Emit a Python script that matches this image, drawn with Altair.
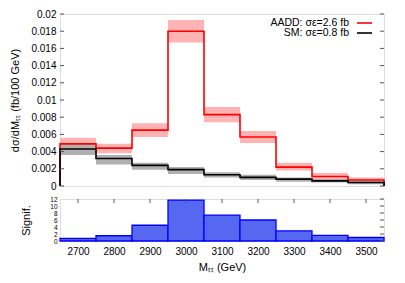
import altair as alt
import pandas as pd

# bin edges (GeV)
edges = [2650, 2750, 2850, 2950, 3050, 3150, 3250, 3350, 3450, 3550]
# AADD distribution and its band
aadd = [0.0049, 0.0044, 0.0065, 0.0180, 0.0083, 0.0057, 0.0022, 0.0011, 0.0007]
aadd_lo = [0.0040, 0.0038, 0.0057, 0.0167, 0.0074, 0.0050, 0.0018, 0.0008, 0.0005]
aadd_hi = [0.0056, 0.0049, 0.0073, 0.0193, 0.0092, 0.0064, 0.0027, 0.0015, 0.0010]
# SM distribution and its band
sm = [0.0043, 0.0032, 0.0024, 0.0019, 0.0013, 0.0010, 0.0008, 0.0006, 0.0004]
sm_lo = [0.0036, 0.0025, 0.0019, 0.0014, 0.0010, 0.0007, 0.0005, 0.0004, 0.0002]
sm_hi = [0.0049, 0.0036, 0.0027, 0.0022, 0.0016, 0.0013, 0.0010, 0.0008, 0.0006]
# significance per bin
signif = [0.75, 1.5, 4.5, 11.7, 7.4, 6.0, 2.9, 1.6, 1.0]

legend_labels = ["AADD: σε=2.6 fb", "SM: σε=0.8 fb"]
y_ticks = [0, 0.002, 0.004, 0.006, 0.008, 0.01, 0.012, 0.014, 0.016, 0.018, 0.02]
x_ticks = [2700, 2800, 2900, 3000, 3100, 3200, 3300, 3400, 3500]
s_ticks = [0, 2, 4, 6, 8, 10, 12]

W, H1, H2 = 324, 172, 42
FONT = "Liberation Sans"
RED, RED_BAND = "#ff0000", "#ffb3b3"
BLK, GRAY_BAND = "#000000", "#b0b0b0"

bins = pd.DataFrame({
    "lo": edges[:-1], "hi": edges[1:],
    "a_lo": aadd_lo, "a_hi": aadd_hi,
    "s_lo": sm_lo, "s_hi": sm_hi,
    "sig": signif,
})


def steps(vals, name):
    rows = [(edges[0], 0.0)]
    for e, v in zip(edges[:-1], vals):
        rows.append((e, v))
    rows.append((edges[-1], vals[-1]))
    rows.append((edges[-1], 0.0))
    return pd.DataFrame({"x": [r[0] for r in rows], "y": [r[1] for r in rows],
                         "i": range(len(rows)), "s": name})


xs = alt.Scale(domain=[edges[0], edges[-1]], nice=False, zero=False)
ys = alt.Scale(domain=[0, 0.02], nice=False)
ss = alt.Scale(domain=[0, 12], nice=False)

y_axis = alt.Axis(values=y_ticks, format=".3~f", ticks=False, domain=False, grid=False,
                  labelOverlap=False, labelPadding=4,
                  title="dσ/dMₜₜ (fb/100 GeV)", titlePadding=10,
                  titleFontWeight="normal", titleFont=FONT, titleFontSize=11)
x_axis = alt.Axis(values=x_ticks, format="d", ticks=False, domain=False, grid=False,
                  labelOverlap=False, labelPadding=5, title="Mₜₜ (GeV)", titlePadding=5,
                  titleFontWeight="normal", titleFont=FONT, titleFontSize=11)
s_axis = alt.Axis(values=s_ticks, ticks=False, domain=False, grid=False, labelFontSize=6.5,
                  labelOverlap=False, labelPadding=3, title="Signif.", titlePadding=18,
                  titleFontWeight="normal", titleFont=FONT, titleFontSize=11)


def TX(f):
    return alt.X(f, scale=xs, axis=None)


def TY(f):
    return alt.Y(f, scale=ys, axis=y_axis, title="dσ/dMₜₜ (fb/100 GeV)")


top_base = alt.Chart(bins)
red_band = top_base.mark_rect(color=RED_BAND).encode(
    x=TX("lo:Q"), x2="hi", y=TY("a_lo:Q"), y2="a_hi")
gray_band = top_base.mark_rect(color=GRAY_BAND).encode(
    x=TX("lo:Q"), x2="hi", y=TY("s_lo:Q"), y2="s_hi")

red_line = alt.Chart(steps(aadd, "AADD")).mark_line(color=RED, strokeWidth=1.6, interpolate="step-after").encode(
    x=TX("x:Q"), y=TY("y:Q"), order="i:O")
blk_line = alt.Chart(steps(sm, "SM")).mark_line(color=BLK, strokeWidth=1.6, interpolate="step-after").encode(
    x=TX("x:Q"), y=TY("y:Q"), order="i:O")

ytk = pd.DataFrame({"v": y_ticks})
ytick_l = alt.Chart(ytk).mark_rule(color="#555").encode(
    y=TY("v:Q"), x=alt.value(0), x2=alt.value(4))
ytick_r = alt.Chart(ytk).mark_rule(color="#555").encode(
    y=TY("v:Q"), x=alt.value(W - 4), x2=alt.value(W))

leg_layers = []
for lab, col, yy in zip(legend_labels, [RED, BLK], [9, 19]):
    d = pd.DataFrame({"t": [lab]})
    leg_layers.append(alt.Chart(d).mark_text(align="right", baseline="middle", font=FONT, fontSize=10.5).encode(
        text="t:N", x=alt.value(289), y=alt.value(yy)))
    leg_layers.append(alt.Chart(d).mark_rule(strokeWidth=1.6, color=col).encode(
        x=alt.value(297), x2=alt.value(312), y=alt.value(yy)))

top = alt.layer(red_band, gray_band, red_line, blk_line, ytick_l, ytick_r, *leg_layers).properties(
    width=W, height=H1)


def BX(f):
    return alt.X(f, scale=xs, axis=x_axis, title="Mₜₜ (GeV)")


def BY(f):
    return alt.Y(f, scale=ss, axis=s_axis, title="Signif.")


bot_base = alt.Chart(bins)
bars = bot_base.mark_rect(color="#5668f0", stroke="#0000ff", strokeWidth=1.3).encode(
    x=BX("lo:Q"), x2="hi", y=BY("sig:Q"), y2=alt.datum(0))

xtk = pd.DataFrame({"v": x_ticks})
xtick_t = alt.Chart(xtk).mark_rule(color="#555").encode(
    x=BX("v:Q"), y=alt.value(0), y2=alt.value(4))
stk = pd.DataFrame({"v": s_ticks})
stick_r = alt.Chart(stk).mark_rule(color="#555").encode(
    y=BY("v:Q"), x=alt.value(W - 4), x2=alt.value(W))

bottom = alt.layer(bars, xtick_t, stick_r).properties(width=W, height=H2)

chart = alt.vconcat(top, bottom, spacing=3).properties(
    padding={"left": 1, "top": 0, "right": 5, "bottom": 0}
).configure_view(stroke="#555", strokeWidth=1).configure_axis(
    labelFont=FONT, titleFont=FONT, labelFontSize=10.5, titleFontSize=11,
    titleFontWeight="normal", labelColor="#000", titleColor="#000"
).configure(background="white")

chart.save("out.html", embed_options={"renderer": "svg", "actions": False})
